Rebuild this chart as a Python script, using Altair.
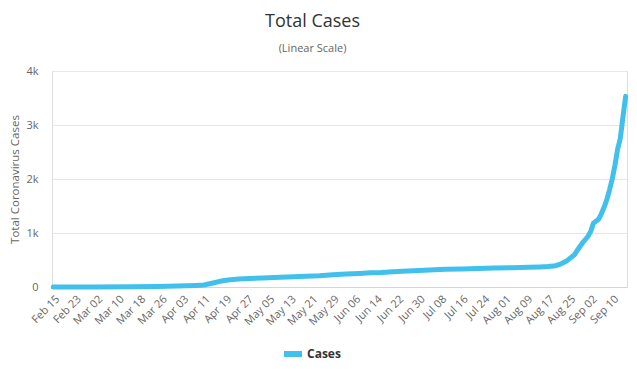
import altair as alt
import pandas as pd

# Dates (2020) and total cases
dates = [
    "2020-02-15", "2020-03-01", "2020-03-15", "2020-03-25", "2020-04-01",
    "2020-04-08", "2020-04-11", "2020-04-14", "2020-04-17", "2020-04-20",
    "2020-04-24", "2020-04-28", "2020-05-03", "2020-05-07", "2020-05-12",
    "2020-05-19", "2020-05-24", "2020-05-29", "2020-06-03", "2020-06-08",
    "2020-06-12", "2020-06-16", "2020-06-22", "2020-06-28", "2020-07-04",
    "2020-07-10", "2020-07-16", "2020-07-22", "2020-07-28", "2020-08-04",
    "2020-08-10", "2020-08-14", "2020-08-17", "2020-08-20", "2020-08-22",
    "2020-08-24", "2020-08-25", "2020-08-26", "2020-08-27", "2020-08-28",
    "2020-08-29", "2020-08-30", "2020-08-31", "2020-09-01", "2020-09-02",
    "2020-09-03", "2020-09-04", "2020-09-05", "2020-09-06", "2020-09-07",
    "2020-09-08", "2020-09-09", "2020-09-10", "2020-09-11", "2020-09-12",
    "2020-09-13", "2020-09-14", "2020-09-15",
]
cases = [
    0, 1, 3, 8, 18,
    30, 38, 70, 105, 130,
    150, 158, 165, 175, 185,
    198, 210, 228, 240, 250,
    262, 268, 285, 300, 315,
    327, 335, 343, 350, 358,
    365, 372, 378, 395, 430,
    480, 520, 560, 600, 680,
    750, 820, 880, 940, 1030,
    1180, 1220, 1260, 1360, 1480,
    1620, 1800, 2000, 2250, 2550,
    2750, 3150, 3530,
]
series_name = "Cases"

tick_months = [2, 2, 3, 3, 3, 3, 4, 4, 4, 4, 5, 5, 5, 5, 6, 6, 6, 6, 7, 7, 7, 8, 8, 8, 8, 9, 9]
tick_days = [15, 23, 2, 10, 18, 26, 3, 11, 19, 27, 5, 13, 21, 29, 6, 14, 22, 30, 8, 16, 24, 1, 9, 17, 25, 2, 10]
y_ticks = [0, 1000, 2000, 3000, 4000]

df = pd.DataFrame({"date": dates, "cases": cases, "series": series_name})

FONT = "Open Sans"
LINE_COLOR = "#41c0ec"

x_values = [alt.DateTime(year=2020, month=m, date=d, utc=True) for m, d in zip(tick_months, tick_days)]

chart = (
    alt.Chart(df)
    .mark_line(strokeWidth=5, strokeCap="round", strokeJoin="round")
    .encode(
        x=alt.X(
            "date:T",
            scale=alt.Scale(
                type="utc",
                domain=[
                    alt.DateTime(year=2020, month=2, date=14, hours=12, utc=True),
                    alt.DateTime(year=2020, month=9, date=15, hours=12, utc=True),
                ],
            ),
            axis=alt.Axis(
                values=x_values,
                labelExpr="utcFormat(datum.value, '%b %d')",
                labelAngle=-45,
                labelAlign="right",
                labelBaseline="top",
                labelPadding=6,
                labelFontSize=11,
                labelColor="#666666",
                labelFont=FONT,
                labelOverlap=False,
                labelFlush=False,
                grid=False,
                ticks=False,
                domainColor="#ccd6eb",
                domainWidth=1,
                title=None,
            ),
        ),
        y=alt.Y(
            "cases:Q",
            scale=alt.Scale(domain=[0, 4000], nice=False),
            axis=alt.Axis(
                values=y_ticks,
                labelExpr="datum.value == 0 ? '0' : (datum.value / 1000) + 'k'",
                labelFontSize=11,
                labelColor="#666666",
                labelFont=FONT,
                labelPadding=14,
                ticks=False,
                domain=False,
                grid=True,
                gridColor="#e6e6e6",
                gridWidth=1,
                title="Total Coronavirus Cases",
                titleFont=FONT,
                titleFontSize=11.5,
                titleFontWeight="normal",
                titleColor="#666666",
                titlePadding=5,
            ),
        ),
        color=alt.Color(
            "series:N",
            scale=alt.Scale(domain=[series_name], range=[LINE_COLOR]),
            legend=alt.Legend(
                title=None,
                orient="none",
                legendX=229,
                legendY=271,
                symbolType="stroke",
                symbolStrokeWidth=6,
                symbolSize=324,
                labelFont=FONT,
                labelFontSize=12,
                labelFontWeight="bold",
                labelColor="#333333",
                labelOffset=2,
                padding=0,
            ),
        ),
    )
    .properties(
        width=575,
        height=216,
        title=alt.TitleParams(
            text="Total Cases",
            subtitle="(Linear Scale)",
            anchor="middle",
            dx=-27,
            font=FONT,
            fontSize=18,
            fontWeight="normal",
            color="#333333",
            subtitleFont=FONT,
            subtitleFontSize=11,
            subtitleColor="#666666",
            subtitlePadding=12,
            offset=11,
        ),
        autosize=alt.AutoSizeParams(type="none"),
        padding={"left": 44, "top": 63, "right": 2, "bottom": 74},
    )
    .configure_view(stroke=None)
    .configure(background="white")
)

chart.save("out.html", embed_options={"renderer": "svg", "actions": False})
